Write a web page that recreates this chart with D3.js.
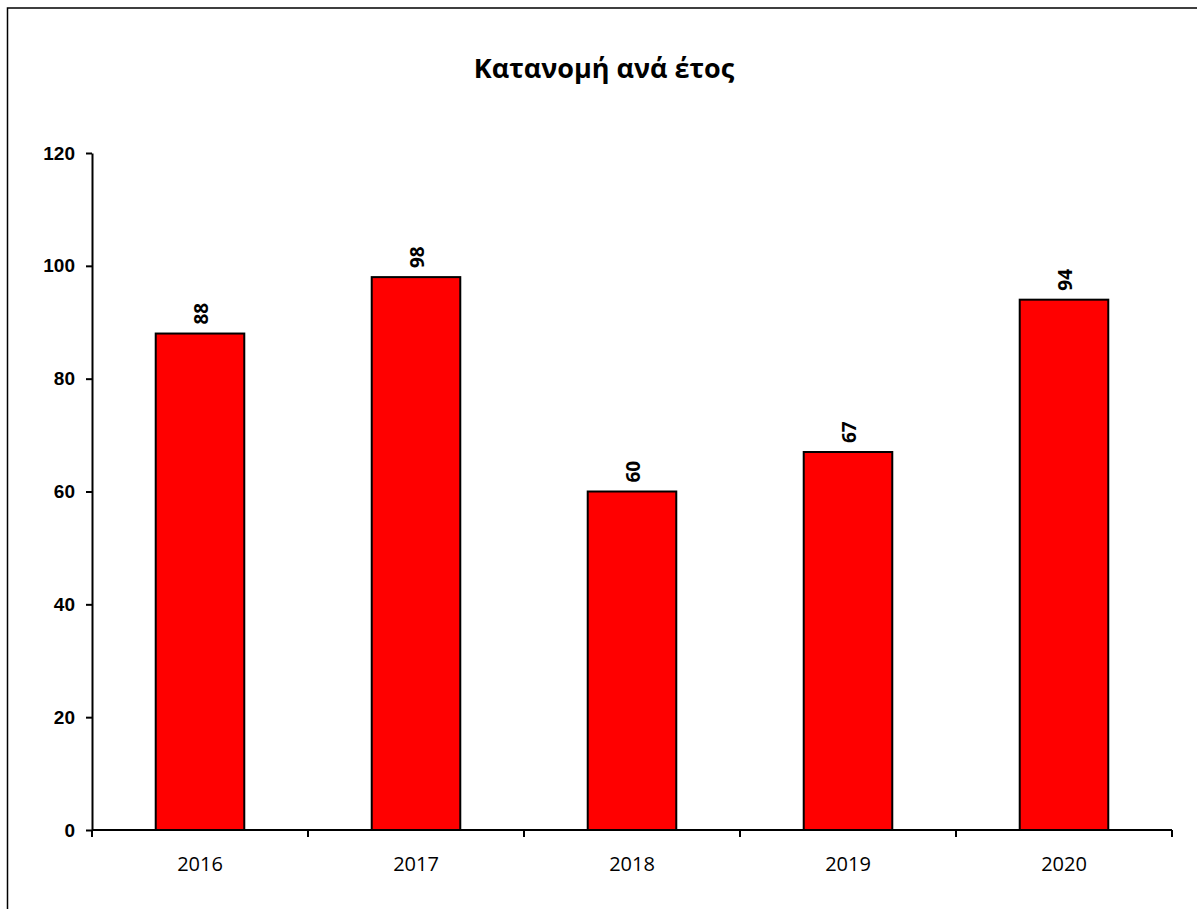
<!DOCTYPE html>
<meta charset="utf-8">
<style>
body { margin: 0; background: #fff; }
svg { display: block; font-family: "Open Sans", "Noto Sans", sans-serif; }
.axis path, .axis line { stroke: #000; stroke-width: 2; }
.axis text { fill: #000; }
</style>
<body>
<svg width="1197" height="909"></svg>
<script src="https://cdn.jsdelivr.net/npm/d3@7"></script>
<script>

var years = ["2016", "2017", "2018", "2019", "2020"];
var counts = [88, 98, 60, 67, 94];
var yTicks = [0, 20, 40, 60, 80, 100, 120];

var svg = d3.select("svg");

// chart frame (cut off at right and bottom)
svg.append("rect")
    .attr("x", 7.5).attr("y", 8)
    .attr("width", 1300).attr("height", 1000)
    .attr("fill", "none")
    .attr("stroke", "#000")
    .attr("stroke-width", 1.5);

svg.append("text")
    .attr("x", 604).attr("y", 78)
    .attr("text-anchor", "middle")
    .attr("font-weight", "bold")
    .attr("font-size", 27)
    .text("Κατανομή ανά έτος");

var x = d3.scaleBand()
    .domain(years)
    .range([92, 1172])
    .paddingInner(0.59)
    .paddingOuter(0.295);

var y = d3.scaleLinear()
    .domain([0, 120])
    .range([830, 153]);

// y axis
var gy = svg.append("g")
    .attr("class", "axis")
    .attr("transform", "translate(92,0)")
    .call(d3.axisLeft(y).tickValues(yTicks).tickSize(6).tickSizeOuter(0).tickPadding(11));
gy.selectAll("text")
    .attr("font-size", 19)
    .attr("font-weight", "bold");

// bars
svg.append("g")
  .selectAll("rect")
  .data(counts)
  .enter().append("rect")
    .attr("x", function(d, i) { return x(years[i]); })
    .attr("y", function(d) { return y(d); })
    .attr("width", x.bandwidth())
    .attr("height", function(d) { return y(0) - y(d); })
    .attr("fill", "#ff0000")
    .attr("stroke", "#000")
    .attr("stroke-width", 2);

// x axis with ticks on category boundaries
var bounds = d3.range(years.length + 1).map(function(i) { return 92 + i * (1080 / years.length); });
var gx = svg.append("g").attr("class", "axis");
gx.append("line")
    .attr("x1", 92).attr("x2", 1172)
    .attr("y1", y(0)).attr("y2", y(0));
gx.selectAll(".tick")
  .data(bounds)
  .enter().append("line")
    .attr("x1", function(d) { return d; })
    .attr("x2", function(d) { return d; })
    .attr("y1", y(0)).attr("y2", y(0) + 7);
gx.selectAll(".lab")
  .data(years)
  .enter().append("text")
    .attr("x", function(d) { return x(d) + x.bandwidth() / 2; })
    .attr("y", 871)
    .attr("text-anchor", "middle")
    .attr("font-size", 20)
    .text(function(d) { return d; });

// value labels, rotated
svg.append("g")
  .selectAll("text")
  .data(counts)
  .enter().append("text")
    .attr("transform", function(d, i) {
      return "translate(" + (x(years[i]) + x.bandwidth() / 2 + 1.5) + "," + (y(d) - 9) + ") rotate(-90)";
    })
    .attr("dy", "0.35em")
    .attr("text-anchor", "start")
    .attr("font-size", 19)
    .attr("font-weight", "bold")
    .text(function(d) { return d; });

</script>
</body>
